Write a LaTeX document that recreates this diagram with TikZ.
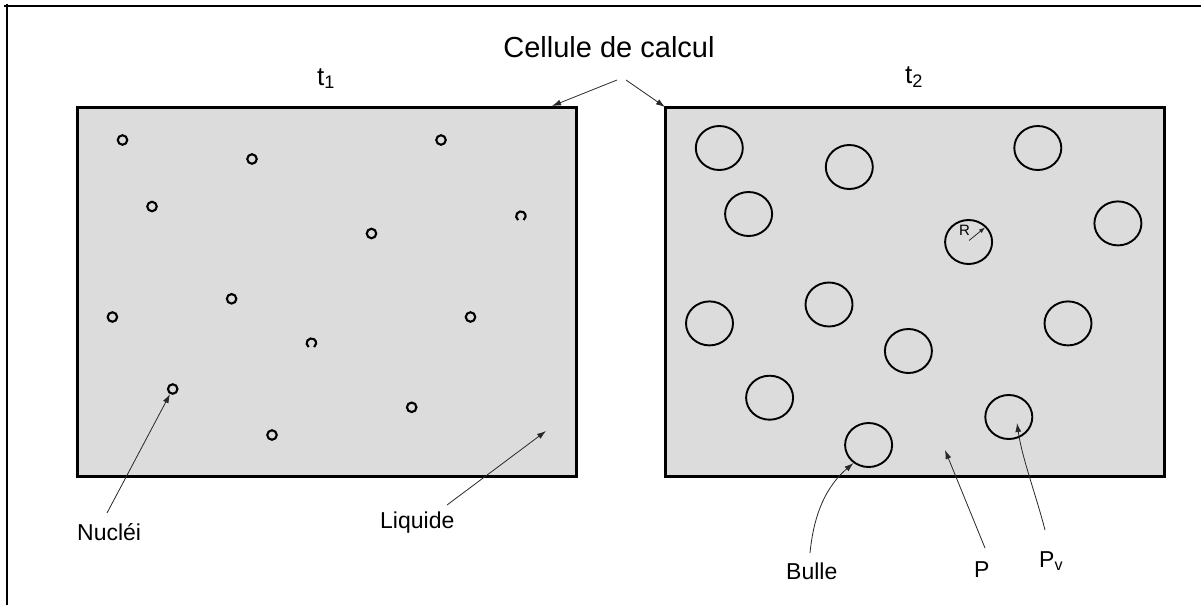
\documentclass[tikz,border=0pt]{standalone}
\usepackage{fontspec}
\setmainfont{Liberation Sans}
\usetikzlibrary{arrows.meta,shapes.geometric}
\definecolor{cellgray}{RGB}{220,220,220}
\definecolor{inkgray}{RGB}{40,40,40}
\begin{document}
\begin{tikzpicture}[x=1pt,y=-1pt,
  cell/.style={draw=black, line width=3pt, fill=cellgray, inner sep=0pt, outer sep=0pt},
  nucleus/.style={draw=black, line width=2.1pt, circle, minimum size=9.5pt, inner sep=0pt},
  nucleusspot/.style={circle, minimum size=9.5pt, inner sep=0pt},
  bubble/.style={draw=black, line width=1.9pt, ellipse, minimum width=47pt, minimum height=44pt, inner sep=0pt},
  pointer/.style={draw=inkgray, line width=0.8pt, -{Latex[length=9pt,width=6pt]}},
  smallpointer/.style={draw=inkgray, line width=0.8pt, -{Latex[length=6pt,width=4.5pt]}},
  lbl/.style={font=\fontsize{23}{27}\selectfont, inner sep=0pt, anchor=base west},
  timelbl/.style={font=\fontsize{26}{30}\selectfont, inner sep=0pt, anchor=base west}
]
\useasboundingbox (0,0) rectangle (1201,605);
\fill[white] (0,0) rectangle (1201,605);
% outer frame
\draw[line width=1.4pt] (4,6) -- (1201,6);
\draw[line width=1.4pt] (7,4) -- (7,605);

% cells
\node[cell, minimum width=499pt, minimum height=369pt, anchor=north west] (cellA) at (77,107) {};
\node[cell, minimum width=499pt, minimum height=369pt, anchor=north west] (cellB) at (665,107) {};

% labels
\node[font=\fontsize{29}{33}\selectfont, inner sep=0pt] (title) at (609,47) {Cellule de calcul};
\node[timelbl] (tA) at (317,85) {t\textsubscript{1}};
\node[timelbl] (tB) at (905,83) {t\textsubscript{2}};
\node[lbl] (nuc) at (77,540) {Nucléi};
\node[lbl] (liq) at (380,528) {Liquide};
\node[lbl] (bul) at (786,579) {Bulle};
\node[lbl] (pl) at (974,577) {P};
\node[lbl] (pvl) at (1039,567) {P\textsubscript{v}};

% nuclei
\foreach \i/\x/\y in {1/122.5/140, 2/252/159, 3/441/140, 4/152/206.5, 5/371.5/233.5,
  7/231.6/298.8, 8/112.4/317, 9/470.5/317, 11/172.7/389, 12/272/435, 13/411.7/407.3}
  \node[nucleus] (n\i) at (\x,\y) {};
\node[nucleusspot] (n6) at (521,216) {};
\node[nucleusspot] (n10) at (311.5,343) {};
\draw[line width=2.1pt] (n6.235) arc[start angle=235, end angle=-55, radius=4.75pt];
\draw[line width=2.1pt] (n10.235) arc[start angle=235, end angle=-55, radius=4.75pt];

% bubbles
\foreach \i/\x/\y in {1/719.3/148, 2/849.3/167, 3/1037.8/148, 4/748.6/214, 5/968.6/242,
  6/1117.9/223.4, 7/709.5/323.4, 8/829/304.5, 9/908.4/351, 10/1068/323.4,
  11/769.6/397.7, 12/1008.8/417, 13/868.6/445}
  \node[bubble] (b\i) at (\x,\y) {};

% radius label
\node[font=\fontsize{15}{17}\selectfont, inner sep=0pt, anchor=base west] (rl) at (959,235) {R};
\coordinate (rTail) at (969,240.5);
\coordinate (rTip) at (985,227.5);
\draw[smallpointer] (rTail) -- (rTip);

% pointers from the title
\coordinate (titleL) at (617,80);
\coordinate (titleR) at (626,80);
\coordinate (cellAtop) at (552,106);
\draw[pointer] (titleL) -- (cellAtop);
\draw[pointer] (titleR) -- (cellB.north west);

% nuclei pointer
\coordinate (nucTail) at (107,513);
\draw[pointer] (nucTail) -- (n11);

% liquid pointer
\coordinate (liqTail) at (447,505);
\coordinate (liqTip) at (546,431);
\draw[pointer] (liqTail) -- (liqTip);

% bubble pointer
\coordinate (bulTail) at (810,553);
\draw[pointer] (bulTail) .. controls (813,522) and (822,490) .. (b13.230);

% P pointer
\coordinate (pTail) at (985,548);
\coordinate (pTip) at (945,450);
\draw[pointer] (pTail) -- (pTip);

% Pv pointer
\coordinate (pvTail) at (1045,530);
\coordinate (pvTip) at (1017,423);
\draw[pointer] (pvTail) .. controls (1036,495) and (1022,458) .. (pvTip);
\end{tikzpicture}
\end{document}
